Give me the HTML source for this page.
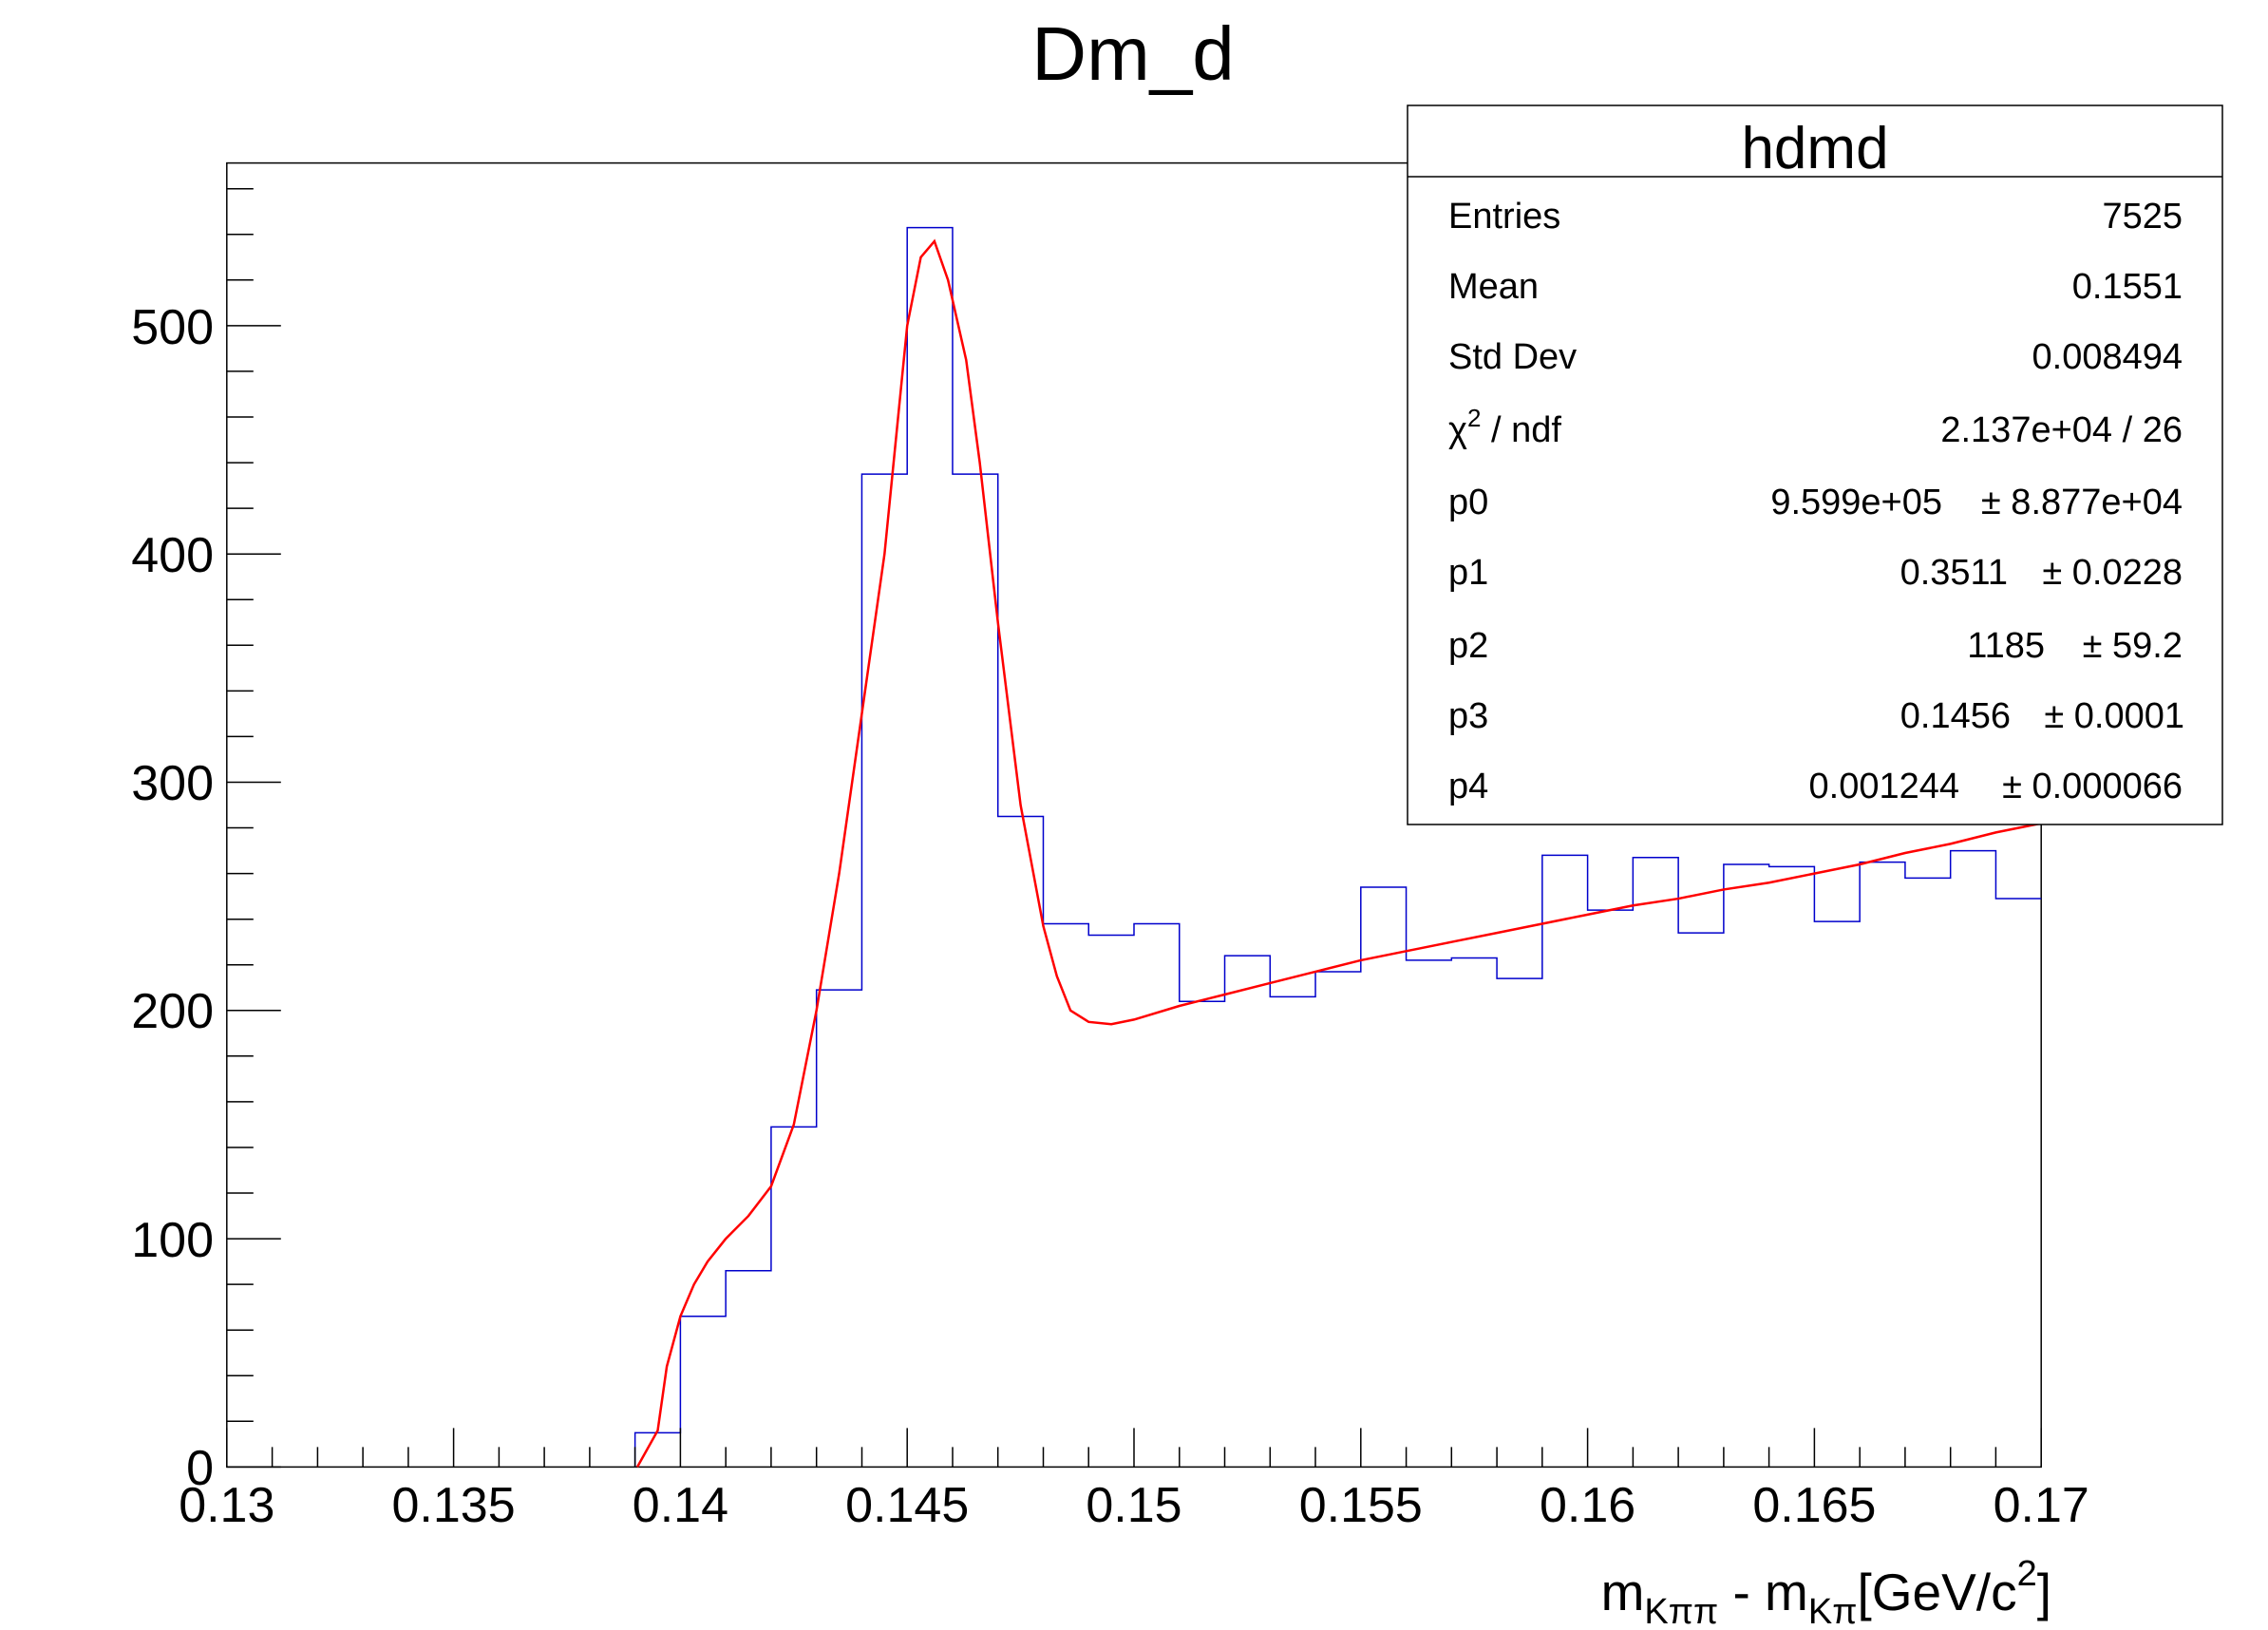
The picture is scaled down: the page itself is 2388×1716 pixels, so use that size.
<!DOCTYPE html>
<html><head><meta charset="utf-8"><style>
html,body{margin:0;padding:0;background:#fff;}
svg{display:block;}
text{font-family:"Liberation Sans",sans-serif;fill:#000;}
</style></head><body>
<svg width="2388" height="1716" viewBox="0 0 2388 1716" xmlns="http://www.w3.org/2000/svg">
<rect width="2388" height="1716" fill="#fff"/>
<text x="1193" y="84" font-size="80" text-anchor="middle">Dm_d</text>
<rect x="238.8" y="171.6" width="1910.4" height="1372.8" fill="none" stroke="#000" stroke-width="1.5"/>
<g transform="translate(238.8,1544.4) scale(47.76,-2.403)">
<path d="M9,0 V15 H10 V66 H11 V86 H12 V149 H13 V209 H14 V435 H15 V543 H16 V435 H17 V285 H18 V238 H19 V233 H20 V238 H21 V204 H22 V224 H23 V206 H24 V217 H25 V254 H26 V222 H27 V223 H28 V214 H29 V268 H30 V244 H31 V267 H32 V234 H33 V264 H34 V263 H35 V239 H36 V265 H37 V258 H38 V270 H39 V249 H40" fill="none" stroke="#0000cc" stroke-width="1.5" vector-effect="non-scaling-stroke"/>
<polyline points="9.05,0 9.5,16 9.7,44 10,66 10.3,80 10.6,90 11,100 11.5,110 12,123 12.5,150 13,200 13.5,260 14,330 14.5,400 15,500 15.3,530 15.6,537 15.9,520 16.3,485 16.6,440 17,370 17.5,290 18,237 18.3,215 18.6,200 19,195 19.5,194 20,196 21,202 22,207 23,212 24,217 25,222 26,226 27,230 28,234 29,238 30,242 31,246 32,249 33,253 34,256 35,260 36,264 37,269 38,273 39,278 40,282" fill="none" stroke="#ff0000" stroke-width="2.5" vector-effect="non-scaling-stroke"/>
</g>
<g stroke="#000" stroke-width="1.5">
<path d="M238.8,1544.4h57M238.8,1304.1h57M238.8,1063.8h57M238.8,823.5h57M238.8,583.2h57M238.8,342.9h57
M238.8,1496.3h28M238.8,1448.3h28M238.8,1400.2h28M238.8,1352.1h28M238.8,1256h28M238.8,1208h28M238.8,1159.9h28M238.8,1111.8h28M238.8,1015.7h28M238.8,967.7h28M238.8,919.6h28M238.8,871.5h28M238.8,775.4h28M238.8,727.4h28M238.8,679.3h28M238.8,631.2h28M238.8,535.1h28M238.8,487.1h28M238.8,439h28M238.8,390.9h28M238.8,294.8h28M238.8,246.8h28M238.8,198.7h28"/>
<path d="M238.8,1544.4v-41M477.6,1544.4v-41M716.4,1544.4v-41M955.2,1544.4v-41M1194,1544.4v-41M1432.8,1544.4v-41M1671.6,1544.4v-41M1910.4,1544.4v-41M2149.2,1544.4v-41
M286.6,1544.4v-21M334.4,1544.4v-21M382.1,1544.4v-21M429.9,1544.4v-21M525.4,1544.4v-21M573.1,1544.4v-21M620.9,1544.4v-21M668.6,1544.4v-21M764.2,1544.4v-21M811.9,1544.4v-21M859.7,1544.4v-21M907.5,1544.4v-21M1003,1544.4v-21M1050.7,1544.4v-21M1098.5,1544.4v-21M1146.2,1544.4v-21M1241.8,1544.4v-21M1289.5,1544.4v-21M1337.3,1544.4v-21M1385,1544.4v-21M1480.6,1544.4v-21M1528.3,1544.4v-21M1576.1,1544.4v-21M1623.8,1544.4v-21M1719.4,1544.4v-21M1767.1,1544.4v-21M1814.9,1544.4v-21M1862.6,1544.4v-21M1958.2,1544.4v-21M2005.9,1544.4v-21M2053.7,1544.4v-21M2101.4,1544.4v-21"/>
</g>
<g font-size="52" text-anchor="end">
<text x="225" y="1563">0</text><text x="225" y="1323">100</text><text x="225" y="1082">200</text><text x="225" y="842">300</text><text x="225" y="602">400</text><text x="225" y="362">500</text>
</g>
<g font-size="52" text-anchor="middle">
<text x="238.8" y="1602">0.13</text><text x="477.6" y="1602">0.135</text><text x="716.4" y="1602">0.14</text><text x="955.2" y="1602">0.145</text><text x="1194" y="1602">0.15</text><text x="1432.8" y="1602">0.155</text><text x="1671.6" y="1602">0.16</text><text x="1910.4" y="1602">0.165</text><text x="2149.2" y="1602">0.17</text>
</g>
<text x="2160" y="1695" font-size="55" text-anchor="end">m<tspan font-size="38" dy="14">Kππ</tspan><tspan dy="-14"> - m</tspan><tspan font-size="38" dy="14">Kπ</tspan><tspan dy="-14">[GeV/c</tspan><tspan font-size="38" dy="-26">2</tspan><tspan dy="26">]</tspan></text>
<rect x="1482" y="111" width="858" height="757" fill="#fff" stroke="#000" stroke-width="1.5"/>
<line x1="1482" y1="186" x2="2340" y2="186" stroke="#000" stroke-width="1.5"/>
<text x="1911" y="177" font-size="62" text-anchor="middle">hdmd</text>
<g font-size="38">
<text x="1525" y="240">Entries</text><text x="2298" y="240" text-anchor="end">7525</text>
<text x="1525" y="314">Mean</text><text x="2298" y="314" text-anchor="end">0.1551</text>
<text x="1525" y="388">Std Dev</text><text x="2298" y="388" text-anchor="end">0.008494</text>
<text x="1525" y="465">χ<tspan font-size="26" dy="-16">2</tspan><tspan dy="16"> / ndf</tspan></text><text x="2298" y="465" text-anchor="end">2.137e+04 / 26</text>
<text x="1525" y="541">p0</text><text x="2045" y="541" text-anchor="end">9.599e+05</text><text x="2298" y="541" text-anchor="end">± 8.877e+04</text>
<text x="1525" y="615">p1</text><text x="2114" y="615" text-anchor="end">0.3511</text><text x="2298" y="615" text-anchor="end">± 0.0228</text>
<text x="1525" y="692">p2</text><text x="2153" y="692" text-anchor="end">1185</text><text x="2298" y="692" text-anchor="end">± 59.2</text>
<text x="1525" y="766">p3</text><text x="2117" y="766" text-anchor="end">0.1456</text><text x="2300" y="766" text-anchor="end">± 0.0001</text>
<text x="1525" y="840">p4</text><text x="2063" y="840" text-anchor="end">0.001244</text><text x="2298" y="840" text-anchor="end">± 0.000066</text>
</g>
</svg>
</body></html>
